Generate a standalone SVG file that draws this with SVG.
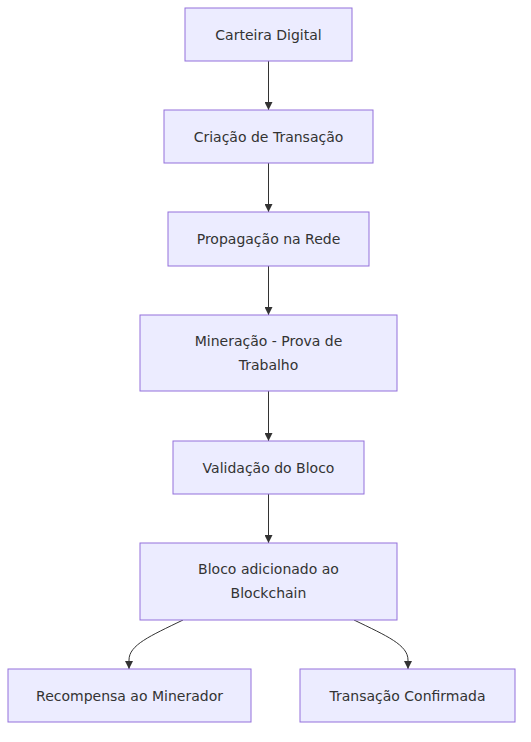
<svg xmlns="http://www.w3.org/2000/svg" width="531" height="742" viewBox="0 0 531 742">
<defs>
<marker id="arrow" viewBox="0 0 10 10" refX="10" refY="5" markerWidth="8" markerHeight="8" markerUnits="userSpaceOnUse" orient="auto">
<path d="M0,0 L10,5 L0,10 z" fill="#333333"/>
</marker>
</defs>
<style>
.node rect { fill: #ECECFF; stroke: #9370DB; stroke-width: 1; }
.node text { font-family: "DejaVu Sans", Verdana, sans-serif; font-size: 14px; fill: #333333; text-anchor: middle; dominant-baseline: central; }
.edges path { fill: none; stroke: #333333; stroke-width: 1; marker-end: url(#arrow); }
</style>
<rect width="531" height="742" fill="#ffffff"/>
<g class="edges">
<path d="M268.5,61 L268.5,110"/>
<path d="M268.5,163 L268.5,212"/>
<path d="M268.5,266 L268.5,315"/>
<path d="M268.5,391 L268.5,441"/>
<path d="M268.5,494 L268.5,543"/>
<path d="M183,620 C150,636 129,645 129,660 L129,669"/>
<path d="M354,620 C387,636 408,645 408,660 L408,669"/>
</g>
<g id="n1" class="node"><rect x="185" y="8" width="167" height="53"/><text x="268.5" y="34.5">Carteira Digital</text></g>
<g id="n2" class="node"><rect x="164" y="110" width="209" height="53"/><text x="268.5" y="136.5">Criação de Transação</text></g>
<g id="n3" class="node"><rect x="168" y="212" width="201" height="54"/><text x="268.5" y="239">Propagação na Rede</text></g>
<g id="n4" class="node"><rect x="140" y="315" width="257" height="76"/><text x="268.5" y="341">Mineração - Prova de</text><text x="268.5" y="365">Trabalho</text></g>
<g id="n5" class="node"><rect x="173" y="441" width="191" height="53"/><text x="268.5" y="467.5">Validação do Bloco</text></g>
<g id="n6" class="node"><rect x="140" y="543" width="257" height="77"/><text x="268.5" y="569">Bloco adicionado ao</text><text x="268.5" y="593">Blockchain</text></g>
<g id="n7" class="node"><rect x="8" y="669" width="243" height="53"/><text x="129.5" y="695.5">Recompensa ao Minerador</text></g>
<g id="n8" class="node"><rect x="300" y="669" width="215" height="53"/><text x="407.5" y="695.5">Transação Confirmada</text></g>
</svg>
